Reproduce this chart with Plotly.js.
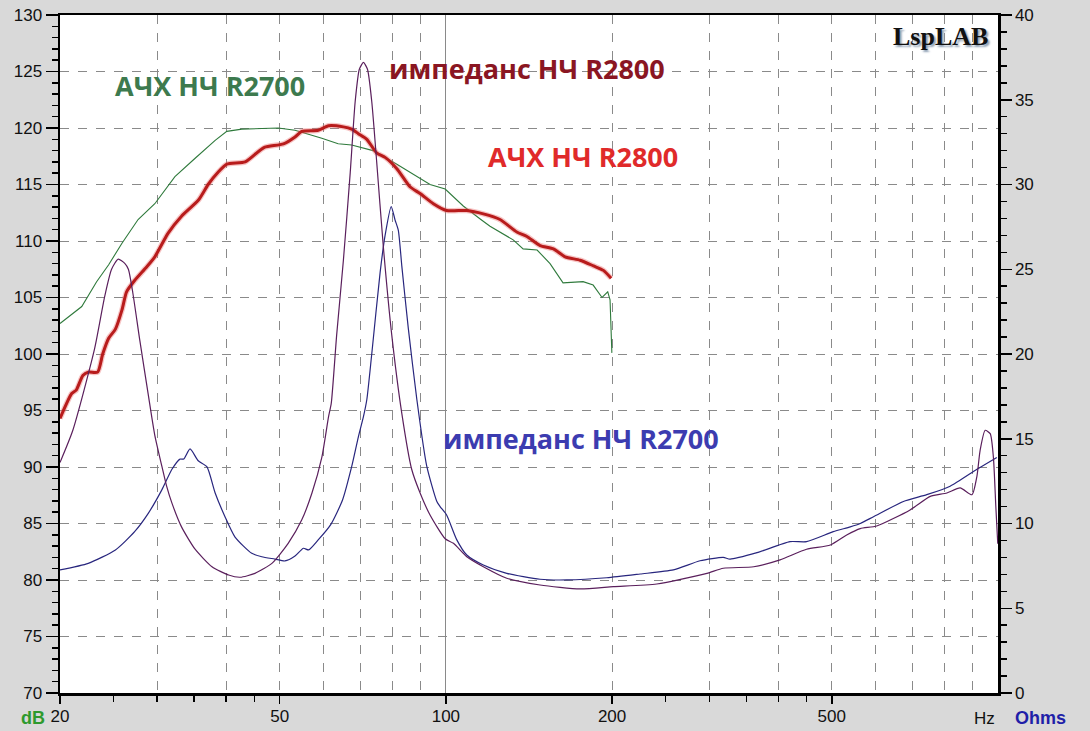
<!DOCTYPE html>
<html>
<head>
<meta charset="utf-8">
<script src="https://cdn.plot.ly/plotly-3.0.1.min.js"></script>
<style>html,body{margin:0;padding:0;background:#d9d9d9;}#chart{width:1090px;height:731px;}</style>
</head>
<body>
<div id="chart"></div>
<script>
// Frequency response R2700 (dB, left axis)
const frR2700Hz = [20, 21.9, 23.3, 24.5, 25.9, 27.7, 29.7, 32.3, 35.1, 38.2, 40.1, 42.7, 49.7, 53.3, 59.6, 63.8, 67.5, 73.8, 81.5, 87.2, 93.6, 99.7, 107.5, 115.7, 120.2, 132.4, 138, 146.3, 154.4, 163, 177.2, 184.8, 191.8, 196.4, 198.3, 199.8];
const frR2700dB = [102.7, 104.2, 106.4, 107.9, 109.8, 111.9, 113.3, 115.7, 117.3, 118.9, 119.7, 119.9, 120.0, 119.8, 119.1, 118.6, 118.5, 118.0, 116.8, 115.9, 115.0, 114.6, 113.1, 111.9, 111.3, 110.1, 109.3, 109.2, 108.0, 106.3, 106.4, 106.1, 105.0, 105.5, 104.8, 100.1];

// Frequency response R2800 (dB, left axis)
const frR2800Hz = [20, 21.0, 21.4, 22.0, 22.5, 23.4, 23.9, 24.5, 25.2, 25.9, 26.4, 27.3, 28.7, 29.7, 31.4, 33.2, 35.6, 37.1, 38.7, 40.1, 43.3, 45.7, 47.0, 50.8, 53.3, 54.8, 58.7, 61.3, 65.2, 67.5, 69.4, 71.9, 74.9, 77.6, 81.5, 86.1, 89.8, 94.9, 100.3, 109.1, 116.9, 125.3, 134.4, 140.2, 148.1, 156.6, 164.4, 175, 185, 192.9, 199.2];
const frR2800dB = [94.3, 96.5, 96.8, 98.1, 98.4, 98.4, 100.0, 101.4, 102.2, 103.9, 105.5, 106.5, 107.7, 108.6, 110.7, 112.2, 113.6, 115.0, 116.1, 116.8, 117.0, 117.9, 118.3, 118.6, 119.2, 119.7, 119.8, 120.2, 120.1, 119.9, 119.5, 119.0, 117.8, 117.4, 116.4, 114.8, 114.2, 113.3, 112.7, 112.7, 112.4, 111.9, 110.8, 110.4, 109.6, 109.3, 108.6, 108.3, 107.8, 107.4, 106.7];

// Impedance R2800 (Ohms, right axis)
const zR2800Hz = [20, 21.1, 23.1, 24.1, 24.8, 25.5, 26.2, 26.6, 27.1, 27.9, 28.9, 29.7, 30.6, 31.2, 31.9, 33.2, 35.1, 37.7, 40.4, 42.4, 45.1, 48.4, 51.8, 54.8, 57.2, 59.6, 61.3, 62.0, 63.4, 65.2, 67.1, 68.5, 69.7, 70.9, 72.1, 73.4, 74.9, 77.0, 79.8, 83.2, 86.7, 89.8, 93.6, 99.7, 103.2, 109.1, 116.9, 128.9, 148.1, 175, 201, 241, 297, 318, 361, 403, 450, 497, 532, 563, 603, 693, 754, 808, 854, 897, 916, 928, 948, 968, 981, 991, 999];
const zR2800Ohm = [13.6, 15.5, 20.3, 23.4, 25.0, 25.6, 25.35, 25.0, 23.6, 20.8, 17.6, 15.2, 13.35, 12.2, 11.2, 9.8, 8.5, 7.45, 6.96, 6.83, 7.06, 7.65, 8.83, 10.2, 11.8, 13.9, 16.3, 17.1, 21.1, 25.5, 30.7, 34.9, 36.8, 37.2, 36.8, 34.9, 31.4, 26.4, 21.1, 16.5, 13.2, 11.8, 10.5, 9.1, 8.83, 8.04, 7.45, 6.77, 6.37, 6.14, 6.27, 6.43, 7.06, 7.36, 7.45, 7.85, 8.48, 8.73, 9.32, 9.7, 9.85, 10.8, 11.6, 11.8, 12.1, 11.7, 12.8, 14.3, 15.5, 15.3, 13.9, 11.0, 8.8];

// Impedance R2700 (Ohms, right axis)
const zR2700Hz = [20, 22.5, 25.2, 27.3, 28.9, 30.6, 31.9, 33.0, 33.5, 34.4, 35.6, 36.9, 38.2, 39.8, 41.5, 44.5, 46.4, 49.0, 51.1, 53.3, 55.2, 56.4, 58.7, 61.9, 65.0, 67.5, 69.4, 70.9, 71.9, 73.4, 76.0, 77.6, 79.6, 80.9, 82.0, 83.2, 85.5, 88.6, 92.3, 96.3, 97.6, 100.3, 104.6, 109.1, 116.9, 128.9, 148.1, 165.6, 195.6, 224.8, 258.2, 288.6, 318, 327, 366, 420, 450, 503, 540, 563, 595, 674, 743, 819, 916, 995];
const zR2700Ohm = [7.26, 7.65, 8.44, 9.52, 10.6, 12.0, 13.2, 13.8, 13.8, 14.4, 13.7, 13.35, 11.8, 10.4, 9.2, 8.24, 8.04, 7.9, 7.79, 8.08, 8.54, 8.44, 9.03, 9.95, 11.4, 13.35, 15.1, 16.3, 17.3, 20.0, 24.8, 27.0, 28.7, 27.9, 27.3, 25.2, 21.5, 17.3, 13.4, 11.3, 11.0, 10.5, 9.05, 8.14, 7.55, 7.06, 6.71, 6.67, 6.8, 7.02, 7.26, 7.8, 8.0, 7.9, 8.28, 8.93, 8.93, 9.52, 9.8, 10.0, 10.4, 11.3, 11.7, 12.2, 13.2, 13.9];

// Axis ticks
const xGridVals = [20, 30, 40, 50, 60, 70, 80, 90, 100, 200, 300, 400, 500, 600, 700, 800, 900];
const xLabelVals = [20, 50, 100, 200, 500];
const xMinorTicks = [25, 30, 35, 40, 45, 250, 300, 350, 400, 450];
const xSolidGrid = [100];

const xGridText = xGridVals.map(v => xLabelVals.includes(v) ? String(v) : '');

const traces = [
  {x: frR2700Hz, y: frR2700dB, xaxis: 'x', yaxis: 'y', mode: 'lines',
   line: {color: '#2f7a3c', width: 1.1}, hoverinfo: 'skip'},
  {x: frR2800Hz, y: frR2800dB, xaxis: 'x', yaxis: 'y', mode: 'lines',
   line: {color: 'rgba(235,110,110,0.4)', width: 5.5, shape: 'spline', smoothing: 0.6}, hoverinfo: 'skip'},
  {x: frR2800Hz, y: frR2800dB, xaxis: 'x', yaxis: 'y', mode: 'lines',
   line: {color: '#b81c1c', width: 3, shape: 'spline', smoothing: 0.6}, hoverinfo: 'skip'},
  {x: zR2700Hz, y: zR2700Ohm, xaxis: 'x', yaxis: 'y2', mode: 'lines',
   line: {color: '#28267e', width: 1.2, shape: 'spline', smoothing: 0.6}, hoverinfo: 'skip'},
  {x: zR2800Hz, y: zR2800Ohm, xaxis: 'x', yaxis: 'y2', mode: 'lines',
   line: {color: '#5a1f5c', width: 1.2, shape: 'spline', smoothing: 0.6}, hoverinfo: 'skip'},
  {x: [], y: [], xaxis: 'x2', yaxis: 'y', mode: 'lines', hoverinfo: 'skip'},
  {x: [], y: [], xaxis: 'x3', yaxis: 'y', mode: 'lines', hoverinfo: 'skip'}
];

const xr = [Math.log10(20), Math.log10(1000)];
const tickFont = {family: 'Liberation Sans, Arial, sans-serif', size: 17, color: '#111'};
const labelFont = {family: 'Open Sans, Liberation Sans, sans-serif', size: 27};

const layout = {
  width: 1090, height: 731,
  margin: {l: 60, r: 92, t: 15, b: 38},
  paper_bgcolor: '#d9d9d9',
  plot_bgcolor: '#ffffff',
  showlegend: false,
  font: tickFont,
  xaxis: {
    type: 'log', range: xr, tickmode: 'array', tickvals: xGridVals, ticktext: xGridText,
    ticks: '', showgrid: true, gridcolor: '#8a8a8a', griddash: 'dash', gridwidth: 1,
    showline: true, linecolor: '#000', linewidth: 2.5, mirror: true, zeroline: false,
    tickfont: tickFont, ticklabelstandoff: 6,
    minor: {tickmode: 'array', tickvals: xMinorTicks, ticks: 'outside', ticklen: 6, tickwidth: 1.5, tickcolor: '#000', showgrid: false}
  },
  xaxis2: {
    type: 'log', range: xr, overlaying: 'x', anchor: 'y', side: 'bottom',
    tickmode: 'array', tickvals: xLabelVals, ticks: 'outside', ticklen: 10, tickwidth: 1.5, tickcolor: '#000',
    showticklabels: false, showgrid: false, showline: false, zeroline: false
  },
  xaxis3: {
    type: 'log', range: xr, overlaying: 'x', anchor: 'y', side: 'bottom',
    tickmode: 'array', tickvals: xSolidGrid, ticks: '', showticklabels: false,
    showgrid: true, gridcolor: '#8a8a8a', gridwidth: 1, showline: false, zeroline: false
  },
  yaxis: {
    range: [70, 130], tickmode: 'linear', tick0: 70, dtick: 5,
    ticks: 'outside', ticklen: 12, tickwidth: 1.5, tickcolor: '#000',
    showgrid: true, gridcolor: '#8a8a8a', griddash: 'dash', gridwidth: 1,
    showline: true, linecolor: '#000', linewidth: 2.5, mirror: true, zeroline: false,
    tickfont: tickFont,
    minor: {dtick: 1, ticks: 'outside', ticklen: 6, tickwidth: 1.5, tickcolor: '#000', showgrid: false}
  },
  yaxis2: {
    range: [0, 40], overlaying: 'y', side: 'right', anchor: 'x', tickmode: 'linear', tick0: 0, dtick: 5,
    ticks: 'outside', ticklen: 11, tickwidth: 1.5, tickcolor: '#000',
    showgrid: false, showline: true, linecolor: '#000', linewidth: 2.5, zeroline: false,
    tickfont: tickFont,
    minor: {dtick: 1, ticks: 'outside', ticklen: 6, tickwidth: 1.5, tickcolor: '#000', showgrid: false}
  },
  annotations: [
    {text: '<b>АЧХ НЧ R2700</b>', xref: 'paper', yref: 'paper', x: 0.0565, y: 0.8953, xanchor: 'left', yanchor: 'middle', showarrow: false,
     font: Object.assign({}, labelFont, {color: '#3d7a4e'})},
    {text: '<b>импеданс НЧ R2800</b>', xref: 'paper', yref: 'paper', x: 0.3486, y: 0.9218, xanchor: 'left', yanchor: 'middle', showarrow: false,
     font: Object.assign({}, labelFont, {color: '#8a1622'})},
    {text: '<b>АЧХ НЧ R2800</b>', xref: 'paper', yref: 'paper', x: 0.4542, y: 0.7920, xanchor: 'left', yanchor: 'middle', showarrow: false,
     font: Object.assign({}, labelFont, {color: '#e02a2a'})},
    {text: '<b>импеданс НЧ R2700</b>', xref: 'paper', yref: 'paper', x: 0.4062, y: 0.3761, xanchor: 'left', yanchor: 'middle', showarrow: false,
     font: Object.assign({}, labelFont, {color: '#3c3cb0'})},
    {text: '<b>LspLAB</b>', xref: 'paper', yref: 'paper', x: 0.9915, y: 0.9676, xanchor: 'right', yanchor: 'middle', showarrow: false,
     font: {family: 'Liberation Serif, DejaVu Serif, serif', size: 26, color: '#111', shadow: '2px 2px 2px #8fa0b4'}},
    {text: '<b>dB</b>', xref: 'paper', yref: 'paper', x: -0.0288, y: -0.0369, xanchor: 'center', yanchor: 'middle', showarrow: false,
     font: {family: 'Liberation Sans, Arial, sans-serif', size: 18, color: '#2e9a2e'}},
    {text: 'Hz', xref: 'paper', yref: 'paper', x: 0.9861, y: -0.0369, xanchor: 'center', yanchor: 'middle', showarrow: false,
     font: tickFont},
    {text: '<b>Ohms</b>', xref: 'paper', yref: 'paper', x: 1.0448, y: -0.0369, xanchor: 'center', yanchor: 'middle', showarrow: false,
     font: {family: 'Liberation Sans, Arial, sans-serif', size: 18, color: '#1f1fa8'}}
  ]
};

Plotly.newPlot('chart', traces, layout, {staticPlot: true, displayModeBar: false});
</script>
</body>
</html>
